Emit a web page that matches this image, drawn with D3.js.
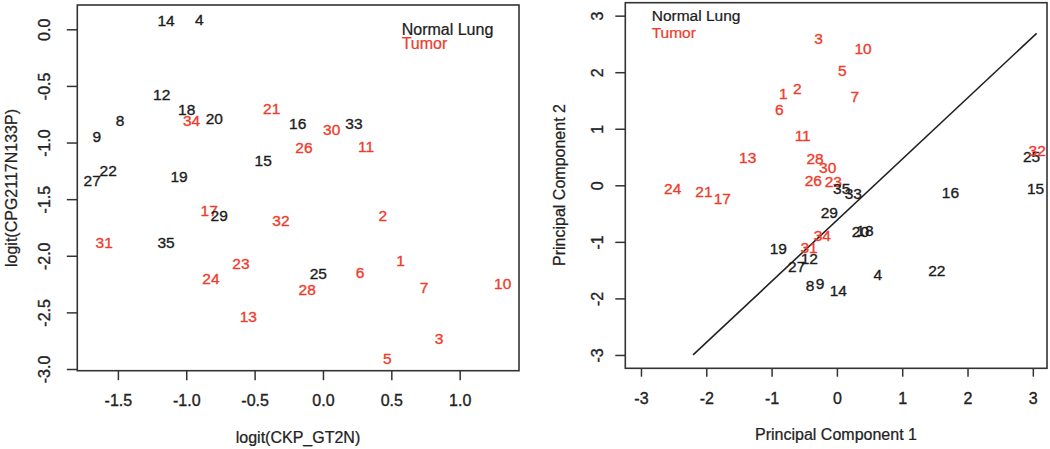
<!DOCTYPE html>
<html><head><meta charset="utf-8">
<script src="https://cdn.jsdelivr.net/npm/d3@7"></script>
<style>
html,body{margin:0;padding:0;background:#fff;}
svg{display:block;font-family:"Liberation Sans",Arial,Helvetica,sans-serif;}
</style></head><body>
<svg id="chart" width="1050" height="449"></svg>
<script>
// ---------------- data ----------------
const sampleLabels = d3.range(1, 36).map(String);
const tumorSamples = [1,2,3,5,6,7,10,11,13,17,21,23,24,26,28,30,31,32,34];
const groupNames = ["Normal Lung", "Tumor"];
const groupColors = ["#1c1c1c", "#ef3b2c"];

// left panel: logit(CKP_GT2N) vs logit(CPG2117N133P), samples 1..35
const logitCKP = [0.568,0.437,0.849,-0.905,0.470,0.271,0.739,-1.485,-1.655,1.315,
                  0.315,-1.180,-0.546,-1.148,-0.437,-0.185,-0.832,-0.997,-1.053,-0.795,
                  -0.375,-1.571,-0.600,-0.819,-0.034,-0.139,-1.688,-0.115,-0.759,0.064,
                  -1.600,-0.307,0.227,-0.961,-1.148];
const logitCPG = [-2.044,-1.640,-2.735,0.088,-2.906,-2.150,-2.279,-0.807,-0.948,-2.249,
                  -1.031,-0.580,-2.532,0.076,-1.160,-0.836,-1.602,-0.707,-1.302,-0.790,
                  -0.701,-1.249,-2.067,-2.205,-2.161,-1.042,-1.337,-2.296,-1.640,-0.883,
                  -1.885,-1.690,-0.836,-0.807,-1.885];

// right panel: principal components, samples 1..35
const pc1 = [-0.821,-0.606,-0.279,0.625,0.083,-0.882,0.273,-0.412,-0.259,0.401,
             -0.524,-0.423,-1.366,0.021,3.041,1.738,-1.755,0.43,-0.897,0.36,
             -2.035,1.530,-0.055,-2.515,2.980,-0.361,-0.616,-0.335,-0.116,-0.141,
             -0.427,3.067,0.251,-0.224,0.073];
const pc2 = [1.615,1.708,2.600,-1.586,2.027,1.344,1.579,-1.775,-1.733,2.416,
             0.884,-1.291,0.495,-1.864,-0.053,-0.131,-0.242,-0.80,-1.114,-0.81,
             -0.113,-1.498,0.071,-0.053,0.518,0.081,-1.439,0.470,-0.477,0.318,
             -1.096,0.612,-0.141,-0.879,-0.053];

const separatorX = [-2.202, 3.058];
const separatorY = [-3.0, 2.688];

const leftXTicks = [-1.5, -1.0, -0.5, 0.0, 0.5, 1.0];
const leftXTickLabels = ["-1.5", "-1.0", "-0.5", "0.0", "0.5", "1.0"];
const leftYTicks = [0.0, -0.5, -1.0, -1.5, -2.0, -2.5, -3.0];
const leftYTickLabels = ["0.0", "-0.5", "-1.0", "-1.5", "-2.0", "-2.5", "-3.0"];
const rightTicks = [-3, -2, -1, 0, 1, 2, 3];
const rightTickLabels = ["-3", "-2", "-1", "0", "1", "2", "3"];

// ---------------- drawing ----------------
const svg = d3.select("#chart");
svg.append("rect").attr("width", 1050).attr("height", 449).attr("fill", "#fff");

const groupOf = i => tumorSamples.includes(i + 1) ? 1 : 0;
const TEXT_STROKE = 0.35;

function panel(cfg) {
  const g = svg.append("g");
  const x = d3.scaleLinear().domain(cfg.xDomain).range([cfg.left, cfg.right]);
  const y = d3.scaleLinear().domain(cfg.yDomain).range([cfg.bottom, cfg.top]);

  // x axis
  const gx = g.append("g")
    .attr("transform", `translate(0,${cfg.bottom})`)
    .call(d3.axisBottom(x).tickValues(cfg.xTicks)
      .tickFormat((d, i) => cfg.xTickLabels[i]).tickSize(cfg.xTickLen).tickPadding(0));
  gx.attr("font-size", null).attr("font-family", null);
  gx.select(".domain").remove();
  gx.selectAll(".tick line").attr("stroke", "#333").attr("stroke-width", 1.5);
  gx.selectAll(".tick text")
    .attr("y", cfg.xLabelOffset).attr("dy", null)
    .attr("dominant-baseline", "central")
    .attr("font-size", cfg.tickFont).attr("fill", "#222")
    .attr("stroke", "#222").attr("stroke-width", TEXT_STROKE);

  // y axis
  const gy = g.append("g")
    .attr("transform", `translate(${cfg.left},0)`)
    .call(d3.axisLeft(y).tickValues(cfg.yTicks)
      .tickFormat((d, i) => cfg.yTickLabels[i]).tickSize(cfg.yTickLen).tickPadding(0));
  gy.attr("font-size", null).attr("font-family", null);
  gy.select(".domain").remove();
  gy.selectAll(".tick line").attr("stroke", "#333").attr("stroke-width", 1.5);
  gy.selectAll(".tick text")
    .attr("x", 0).attr("dy", null)
    .attr("text-anchor", "middle")
    .attr("dominant-baseline", "central")
    .attr("transform", `translate(${-cfg.yLabelOffset},0) rotate(-90)`)
    .attr("font-size", cfg.tickFont).attr("fill", "#222")
    .attr("stroke", "#222").attr("stroke-width", TEXT_STROKE);

  // box
  g.append("rect")
    .attr("x", cfg.left).attr("y", cfg.top)
    .attr("width", cfg.right - cfg.left).attr("height", cfg.bottom - cfg.top)
    .attr("fill", "none").attr("stroke", "#333").attr("stroke-width", 1.6);

  // axis titles
  g.append("text")
    .attr("x", cfg.xTitlePos[0]).attr("y", cfg.xTitlePos[1])
    .attr("text-anchor", "middle").attr("dominant-baseline", "central")
    .attr("font-size", cfg.titleFont).attr("fill", "#222")
    .attr("stroke", "#222").attr("stroke-width", TEXT_STROKE * 0.7)
    .text(cfg.xTitle);
  g.append("text")
    .attr("transform", `translate(${cfg.yTitlePos[0]},${cfg.yTitlePos[1]}) rotate(-90)`)
    .attr("text-anchor", "middle").attr("dominant-baseline", "central")
    .attr("font-size", cfg.titleFont).attr("fill", "#222")
    .attr("stroke", "#222").attr("stroke-width", TEXT_STROKE * 0.7)
    .text(cfg.yTitle);

  // optional line
  if (cfg.lineX) {
    g.append("path")
      .datum(d3.range(cfg.lineX.length))
      .attr("d", d3.line().x(i => x(cfg.lineX[i])).y(i => y(cfg.lineY[i])))
      .attr("fill", "none").attr("stroke", "#222").attr("stroke-width", 1.6);
  }

  // point labels
  g.append("g").selectAll("text")
    .data(d3.range(sampleLabels.length))
    .join("text")
    .attr("x", i => x(cfg.xs[i]))
    .attr("y", i => y(cfg.ys[i]))
    .attr("text-anchor", "middle").attr("dominant-baseline", "central")
    .attr("font-size", cfg.pointFont)
    .attr("fill", i => groupColors[groupOf(i)])
    .attr("stroke", i => groupColors[groupOf(i)]).attr("stroke-width", TEXT_STROKE)
    .text(i => sampleLabels[i]);

  // legend
  g.append("g").selectAll("text")
    .data(groupNames)
    .join("text")
    .attr("x", cfg.legendX)
    .attr("y", (d, i) => cfg.legendY[i])
    .attr("dominant-baseline", "central")
    .attr("font-size", cfg.legendFont)
    .attr("fill", (d, i) => groupColors[i])
    .attr("stroke", (d, i) => groupColors[i]).attr("stroke-width", TEXT_STROKE * 0.7)
    .text(d => d);
}

panel({
  left: 77.3, right: 519, top: 5, bottom: 370.7,
  xDomain: [-1.797, 1.434], yDomain: [-3.015, 0.2146],
  xTicks: leftXTicks, xTickLabels: leftXTickLabels,
  yTicks: leftYTicks, yTickLabels: leftYTickLabels,
  xTickLen: 9.5, yTickLen: 10.5, xLabelOffset: 29.8, yLabelOffset: 33.3,
  tickFont: 16, titleFont: 16, pointFont: 15.5, legendFont: 16,
  xTitle: "logit(CKP_GT2N)", yTitle: "logit(CPG2117N133P)",
  xTitlePos: [298, 437], yTitlePos: [11, 188],
  xs: logitCKP, ys: logitCPG,
  legendX: 401.7, legendY: [29, 43]
});

panel({
  left: 625.3, right: 1047, top: 2.7, bottom: 368.3,
  xDomain: [-3.240, 3.217], yDomain: [-3.236, 3.229],
  xTicks: rightTicks, xTickLabels: rightTickLabels,
  yTicks: rightTicks, yTickLabels: rightTickLabels,
  xTickLen: 8.4, yTickLen: 10, xLabelOffset: 30.4, yLabelOffset: 27.5,
  tickFont: 16, titleFont: 16, pointFont: 15.5, legendFont: 15.5,
  xTitle: "Principal Component 1", yTitle: "Principal Component 2",
  xTitlePos: [836, 434], yTitlePos: [559, 185],
  xs: pc1, ys: pc2,
  lineX: separatorX, lineY: separatorY,
  legendX: 651.7, legendY: [15.3, 32]
});
</script>
</body></html>
